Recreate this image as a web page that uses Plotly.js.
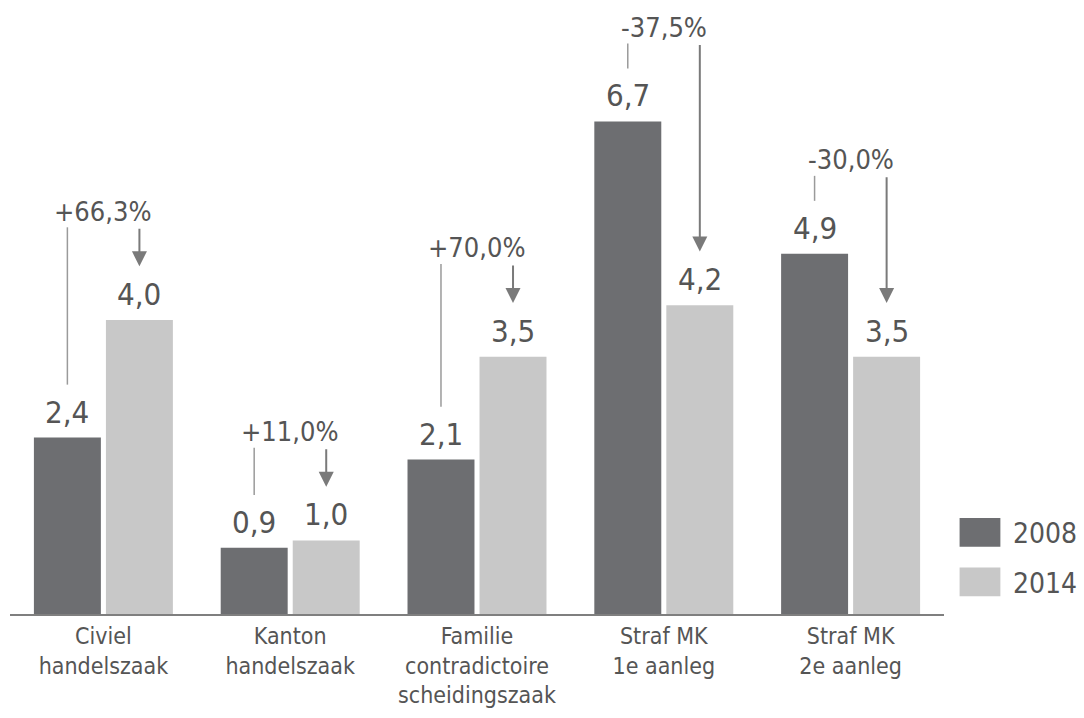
<!DOCTYPE html>
<html>
<head>
<meta charset="utf-8">
<script src="https://cdn.plot.ly/plotly-3.0.1.min.js"></script>
<style>html,body{margin:0;padding:0;background:#fff;}#chart{width:1084px;height:718px;}</style>
</head>
<body>
<div id="chart"></div>
<script>
const categories = ["Civiel<br>handelszaak", "Kanton<br>handelszaak", "Familie<br>contradictoire<br>scheidingszaak", "Straf MK<br>1e aanleg", "Straf MK<br>2e aanleg"];
const values2008 = [2.4, 0.9, 2.1, 6.7, 4.9];
const values2014 = [4.0, 1.0, 3.5, 4.2, 3.5];
const changeLabels = ["+66,3%", "+11,0%", "+70,0%", "-37,5%", "-30,0%"];
const seriesNames = ["2008", "2014"];

const FONT = "DejaVu Sans Condensed, DejaVu Sans, sans-serif";
const TXT = "#555555";
const DARK = "#6d6e71";
const LIGHT = "#c8c8c8";
const xs = categories.map((c, i) => i);
const OFF = 0.1928;

const fmt = v => v.toFixed(1).replace('.', ',');

const traces = [
  {type: 'bar', name: seriesNames[0], x: xs, y: values2008, marker: {color: DARK, line: {width: 0}}, legendgroup: 'a', hoverinfo: 'skip'},
  {type: 'bar', name: seriesNames[1], x: xs, y: values2014, marker: {color: LIGHT, line: {width: 0}}, legendgroup: 'b', hoverinfo: 'skip'}
];

const annotations = [];
const shapes = [];
xs.forEach(i => {
  const a = values2008[i], b = values2014[i];
  annotations.push({x: i - OFF, y: a, text: fmt(a), showarrow: false, yanchor: 'bottom', yshift: 6, font: {family: FONT, size: 31, color: TXT}});
  annotations.push({x: i + OFF, y: b, text: fmt(b), showarrow: false, yanchor: 'bottom', yshift: 6, font: {family: FONT, size: 31, color: TXT}});
  const inc = b > a;
  const lineBottom = a + 0.72;
  const arrowTip = b + 0.73;
  const top = inc ? arrowTip + 0.53 : lineBottom + 0.34;
  shapes.push({type: 'line', xref: 'x', yref: 'y', x0: i - OFF, x1: i - OFF, y0: lineBottom, y1: top, line: {color: '#9a9a9a', width: 1.5}});
  annotations.push({x: i + OFF, y: arrowTip, ax: i + OFF, ay: top, axref: 'x', ayref: 'y', xref: 'x', yref: 'y', text: '', showarrow: true, arrowhead: 2, arrowsize: 1.5, arrowwidth: 2, arrowcolor: '#7a7a7a'});
  annotations.push({x: i, y: top + 0.22, text: changeLabels[i], showarrow: false, yanchor: 'middle', font: {family: FONT, size: 27, color: TXT}});
});

const layout = {
  width: 1084, height: 718,
  margin: {l: 10, r: 140, t: 20, b: 104},
  paper_bgcolor: '#ffffff', plot_bgcolor: '#ffffff',
  barmode: 'group', bargap: 0.229, bargroupgap: 0.07,
  font: {family: FONT, color: TXT},
  xaxis: {range: [-0.5, 4.5], tickvals: xs, ticktext: categories, showline: true, linecolor: '#7f7f7f', linewidth: 2, ticks: '', showgrid: false, zeroline: false, tickfont: {family: FONT, size: 23, color: TXT}, fixedrange: true},
  yaxis: {range: [0, 8.08], showgrid: false, zeroline: false, showticklabels: false, ticks: '', showline: false, fixedrange: true},
  showlegend: true,
  legend: {xref: 'container', yref: 'container', x: 0.8736, xanchor: 'left', y: 0.2928, yanchor: 'top', traceorder: 'grouped', tracegroupgap: 10, itemwidth: 56, font: {family: FONT, size: 28, color: TXT}, bgcolor: 'rgba(0,0,0,0)'},
  annotations: annotations,
  shapes: shapes
};

Plotly.newPlot('chart', traces, layout, {displayModeBar: false, staticPlot: true}).then(gd => {
  document.querySelectorAll('.legend .legendpoints path').forEach(p => {
    const t = p.getAttribute('transform') || '';
    p.setAttribute('transform', t + ' scale(3.4,2.4)');
  });
});
</script>
</body>
</html>
